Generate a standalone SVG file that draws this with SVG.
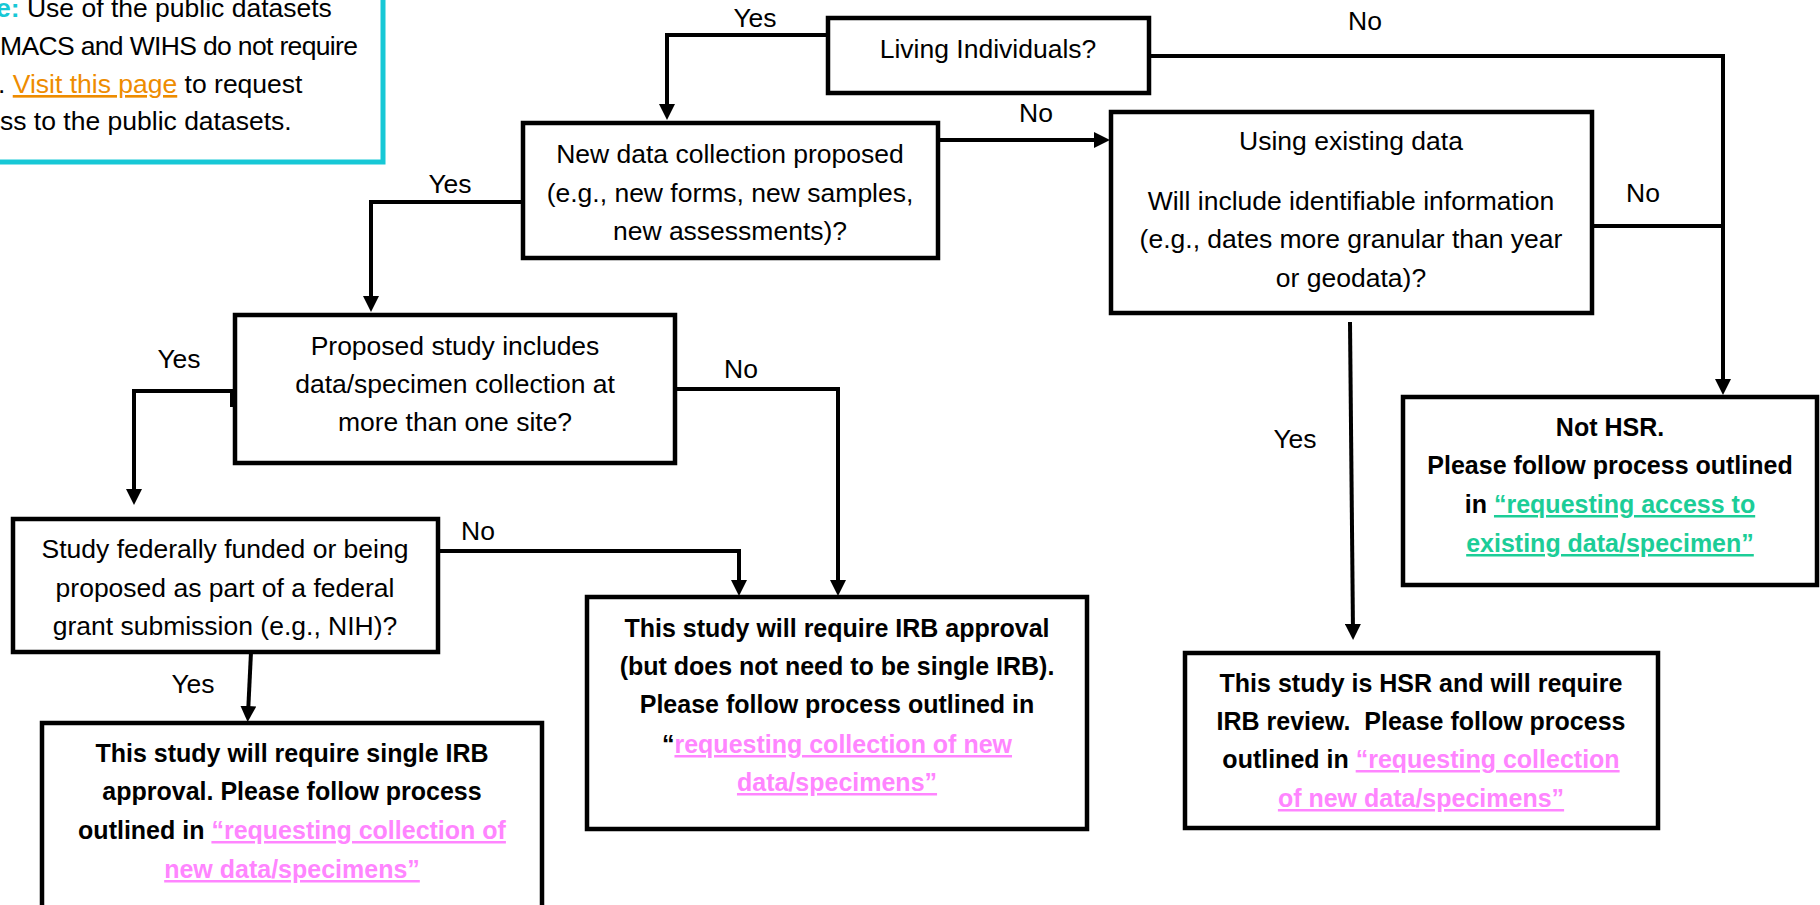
<svg xmlns="http://www.w3.org/2000/svg" width="1820" height="905" viewBox="0 0 1820 905">
<style>
text{font-family:"Liberation Sans",Arial,sans-serif;fill:#000}
.r{font-size:26.5px}
.b{font-size:25px;font-weight:bold}
.lbl{font-size:26.5px;text-anchor:middle}
.c{text-anchor:middle}
.box{fill:#fff;stroke:#000;stroke-width:4.5}
.con{fill:none;stroke:#000;stroke-width:4}
.pink{fill:#ff85ff;text-decoration:underline}
.green{fill:#1ccd97;text-decoration:underline}
.orange{fill:#ee8c00;text-decoration:underline}
</style>
<defs>
<marker id="arr" markerUnits="userSpaceOnUse" markerWidth="16" markerHeight="16" viewBox="0 0 16 16" refX="8" refY="8" orient="auto"><path d="M0,0 L16,8 L0,16 Z" fill="#000"/></marker>
</defs>
<rect width="1820" height="905" fill="#fff"/>

<g id="note">
<rect x="-20" y="-20" width="403" height="182" fill="#fff" stroke="#17c8d6" stroke-width="5"/>
<text class="r" x="-4" y="17"><tspan fill="#17c8d6" font-weight="bold">e:</tspan> Use of the public datasets</text>
<text class="r" x="0" y="55" textLength="358">MACS and WIHS do not require</text>
<text class="r" x="-2" y="93">. <tspan class="orange">Visit this page</tspan> to request</text>
<text class="r" x="0" y="130">ss to the public datasets.</text>
</g>

<g id="living">
<rect class="box" x="828" y="18" width="321" height="75"/>
<text class="r c" x="988" y="58">Living Individuals?</text>
</g>

<g id="newdata">
<rect class="box" x="523" y="123" width="415" height="135"/>
<text class="r c" x="730" y="163">New data collection proposed</text>
<text class="r c" x="730" y="202">(e.g., new forms, new samples,</text>
<text class="r c" x="730" y="240">new assessments)?</text>
</g>

<g id="existing">
<rect class="box" x="1111" y="112" width="481" height="201"/>
<text class="r c" x="1351" y="150">Using existing data</text>
<text class="r c" x="1351" y="210">Will include identifiable information</text>
<text class="r c" x="1351" y="248">(e.g., dates more granular than year</text>
<text class="r c" x="1351" y="287">or geodata)?</text>
</g>

<g id="proposed">
<rect class="box" x="235" y="315" width="440" height="148"/>
<text class="r c" x="455" y="355">Proposed study includes</text>
<text class="r c" x="455" y="393">data/specimen collection at</text>
<text class="r c" x="455" y="431">more than one site?</text>
</g>

<g id="federal">
<rect class="box" x="13" y="519" width="425" height="133"/>
<text class="r c" x="225" y="558">Study federally funded or being</text>
<text class="r c" x="225" y="597">proposed as part of a federal</text>
<text class="r c" x="225" y="635">grant submission (e.g., NIH)?</text>
</g>

<g id="single-irb">
<rect class="box" x="42" y="723" width="500" height="200"/>
<text class="b c" x="292" y="762">This study will require single IRB</text>
<text class="b c" x="292" y="800">approval. Please follow process</text>
<text class="b c" x="292" y="839">outlined in <tspan class="pink">“requesting collection of</tspan></text>
<text class="b c" x="292" y="878"><tspan class="pink">new data/specimens”</tspan></text>
</g>

<g id="irb-approval">
<rect class="box" x="587" y="597" width="500" height="232"/>
<text class="b c" x="837" y="637">This study will require IRB approval</text>
<text class="b c" x="837" y="675">(but does not need to be single IRB).</text>
<text class="b c" x="837" y="713">Please follow process outlined in</text>
<text class="b c" x="837" y="753">“<tspan class="pink">requesting collection of new</tspan></text>
<text class="b c" x="837" y="791"><tspan class="pink">data/specimens”</tspan></text>
</g>

<g id="hsr">
<rect class="box" x="1185" y="653" width="473" height="175"/>
<text class="b c" x="1421" y="692">This study is HSR and will require</text>
<text class="b c" x="1421" y="730" xml:space="preserve">IRB review.  Please follow process</text>
<text class="b c" x="1421" y="768">outlined in <tspan class="pink">“requesting collection</tspan></text>
<text class="b c" x="1421" y="807"><tspan class="pink">of new data/specimens”</tspan></text>
</g>

<g id="not-hsr">
<rect class="box" x="1403" y="397" width="414" height="188"/>
<text class="b c" x="1610" y="436">Not HSR.</text>
<text class="b c" x="1610" y="474">Please follow process outlined</text>
<text class="b c" x="1610" y="513">in <tspan class="green">“requesting access to</tspan></text>
<text class="b c" x="1610" y="552"><tspan class="green">existing data/specimen”</tspan></text>
</g>

<g id="connectors">
<path class="con" d="M826,35 H667 V112" marker-end="url(#arr)"/>
<path class="con" d="M1149,56 H1723 V387" marker-end="url(#arr)"/>
<path class="con" d="M938,140 H1102" marker-end="url(#arr)"/>
<path class="con" d="M1592,226 H1723"/>
<path class="con" d="M1350,322 L1353,632" marker-end="url(#arr)"/>
<path class="con" d="M523,202 H371 V304" marker-end="url(#arr)"/>
<path class="con" d="M235,391 H134 V497" marker-end="url(#arr)"/>
<path class="con" d="M232,391 V407"/>
<path class="con" d="M675,389 H838 V588" marker-end="url(#arr)"/>
<path class="con" d="M438,551 H739 V588" marker-end="url(#arr)"/>
<path class="con" d="M251,652 L248,714" marker-end="url(#arr)"/>
<text class="lbl" x="755" y="27">Yes</text>
<text class="lbl" x="1365" y="30">No</text>
<text class="lbl" x="1036" y="122">No</text>
<text class="lbl" x="1643" y="202">No</text>
<text class="lbl" x="1295" y="448">Yes</text>
<text class="lbl" x="450" y="193">Yes</text>
<text class="lbl" x="179" y="368">Yes</text>
<text class="lbl" x="741" y="378">No</text>
<text class="lbl" x="478" y="540">No</text>
<text class="lbl" x="193" y="693">Yes</text>
</g>
</svg>
